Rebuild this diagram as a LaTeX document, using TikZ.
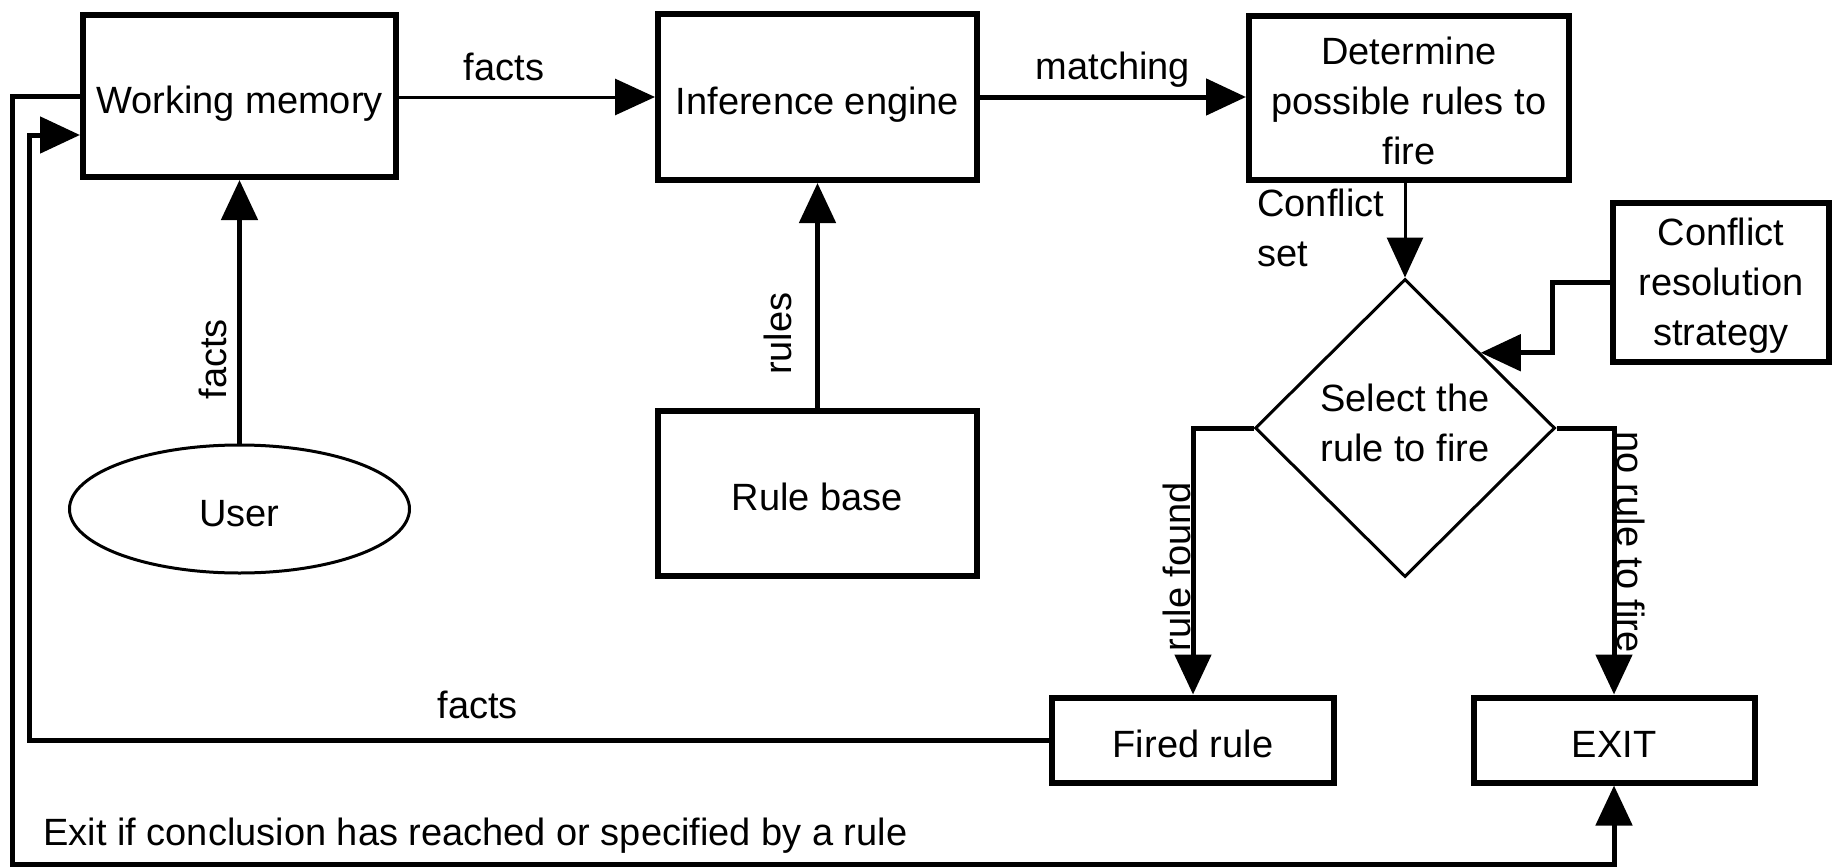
\documentclass[tikz,border=0pt]{standalone}
\usepackage{fontspec}
\setmainfont{Liberation Sans}
\usetikzlibrary{arrows.meta, positioning, shapes.geometric}

\begin{document}
\begin{tikzpicture}[x=0.5pt, y=-0.5pt, >={Triangle[length=20pt, width=18pt]},
    font=\fontsize{19}{25}\selectfont,
    box/.style={draw, line width=3pt, inner sep=0pt, align=center},
    sbox/.style={box, text height=17pt, text depth=0pt},
    lbl/.style={inner sep=0pt, text depth=0pt},
    vlbl/.style={lbl, rotate=90, anchor=south},
    conn/.style={line width=2.5pt},
    thinconn/.style={line width=1.5pt}]
    \useasboundingbox (0,0) rectangle (1837,867);

    % top row
    \node[sbox, minimum width=156.5pt, minimum height=81pt] (wm) at (239.5,96) {Working memory};
    \node[sbox, minimum width=159.5pt, minimum height=83pt] (ie) at (817.5,97) {Inference engine};
    \node[box, minimum width=160pt, minimum height=82pt] (det) at (1409,98) {\rule{0pt}{17pt}Determine\\possible rules to\\fire};

    % inputs
    \node[draw, ellipse, line width=1.5pt, minimum width=170pt, minimum height=64pt, text height=17pt, text depth=0pt] (user) at (239.5,509) {User};
    \node[sbox, minimum width=159.5pt, minimum height=82.5pt] (rb) at (817.5,493.5) {Rule base};

    % conflict resolution
    \node[lbl, align=left, anchor=north west] (cset) at (1257,189) {Conflict\\set};
    \node[box, minimum width=108pt, minimum height=79.5pt] (crs) at (1721,282.5) {\rule{0pt}{17pt}Conflict\\resolution\\strategy};
    \node[draw, diamond, line width=1.5pt, minimum width=150pt, minimum height=149pt, inner sep=0pt, align=center] (sel) at (1405,428) {Select the\\rule to fire\rule[-5pt]{0pt}{0pt}};

    % outcomes
    \node[sbox, minimum width=141pt, minimum height=42.5pt] (fired) at (1193,740) {Fired rule};
    \node[sbox, minimum width=140.5pt, minimum height=42.5pt] (exit) at (1614,740) {EXIT};

    \coordinate (inl) at (29,135);
    \coordinate (outl) at (12,864);

    \draw[->, thinconn] (wm.east |- ie.west) -- node[lbl, above=7.5pt, pos=0.41] (f1) {facts} (ie.west);
    \draw[->, conn] (ie.east) -- node[lbl, above=7.5pt] (m1) {matching} (det.west |- ie.east);
    \draw[->, thinconn] (sel.north |- det.south) -- (sel.north);
    \draw[->, conn] (user.north) -- node[vlbl, pos=0.32, outer sep=6.5pt] (f2) {facts} (wm.south);
    \draw[->, conn] (rb.north) -- node[vlbl, pos=0.33, outer sep=13pt] (r1) {rules} (ie.south);
    \draw[->, conn] (crs.west) -- ++(-58,0) |- (sel.north east);
    \draw[->, conn] (sel.west) -| node[vlbl, pos=0.76, outer sep=1.5pt] (rf) {rule found} (fired.north);
    \draw[->, conn] (sel.east) -| node[lbl, rotate=-90, anchor=south west, pos=0.5, outer sep=1.5pt] (nr) {no rule to fire} (exit.north);

    % loops back
    \draw[->, conn] (fired.west) -| node[lbl, above=9.5pt, pos=0.28] (f3) {facts} (inl) -- (inl -| wm.west);
    \draw[->, conn] (wm.west) -| (outl) -| (exit.south);
    \node[lbl, anchor=base west] (note) at ([xshift=15.5pt, yshift=9.5pt]outl) {Exit if conclusion has reached or specified by a rule};
\end{tikzpicture}
\end{document}
